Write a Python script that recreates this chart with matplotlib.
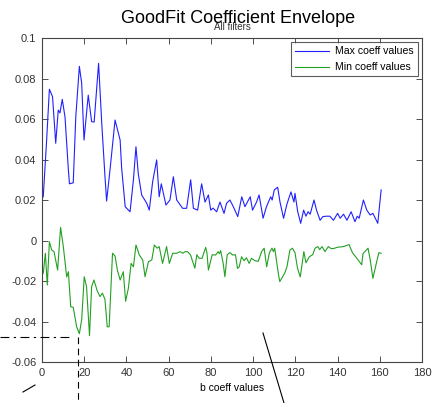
import matplotlib
matplotlib.use("Agg")
import matplotlib.pyplot as plt
from matplotlib.lines import Line2D
import numpy as np

plt.rcParams['font.family'] = ['Liberation Sans', 'DejaVu Sans']

# points (coefficient index, value)
max_x = [0.6, 2.2, 3.5, 5.0, 6.5, 7.7, 8.5, 9.6, 10.9, 12.5, 13.0, 14.8, 16.0, 17.7, 18.8,
         19.9, 21.9, 23.5, 24.7, 26.8, 28.3, 29.8, 30.6, 32.2, 34.6, 37.0, 37.7, 39.4, 41.7,
         43.3, 44.5, 45.6, 47.2, 49.6, 50.8, 52.4, 54.3, 55.5, 56.5, 58.7, 60.6, 62.2, 63.8,
         66.6, 68.5, 70.4, 71.7, 73.7, 75.6, 77.2, 78.8, 79.9, 81.0, 82.7, 84.3, 86.2, 87.4,
         89.0, 90.6, 92.7, 94.6, 96.1, 98.6, 99.7, 101.6, 102.8, 104.7, 106.3, 108.3, 109.0,
         110.0, 111.6, 112.7, 114.4, 116.0, 117.9, 119.3, 119.8, 121.1, 122.5, 123.9, 125.0,
         126.0, 127.0, 128.8, 130.0, 131.7, 133.0, 134.6, 136.3, 138.0, 140.0, 141.2, 142.8,
         144.4, 146.4, 148.2, 149.3, 150.2, 152.2, 153.8, 155.4, 156.7, 159.0, 160.6]
max_y = [0.0216, 0.0496, 0.0747, 0.0710, 0.0480, 0.0644, 0.0630, 0.0697, 0.0610, 0.0348,
         0.0280, 0.0285, 0.0610, 0.0860, 0.0776, 0.0496, 0.0718, 0.0587, 0.0585, 0.0875,
         0.0579, 0.0320, 0.0195, 0.0348, 0.0595, 0.0496, 0.0360, 0.0167, 0.0142, 0.0300,
         0.0463, 0.0330, 0.0225, 0.0184, 0.0150, 0.0290, 0.0398, 0.0216, 0.0280, 0.0175,
         0.0200, 0.0315, 0.0200, 0.0159, 0.0159, 0.0300, 0.0159, 0.0150, 0.0280, 0.0190,
         0.0225, 0.0150, 0.0160, 0.0142, 0.0190, 0.0134, 0.0184, 0.0200, 0.0167, 0.0118,
         0.0216, 0.0167, 0.0216, 0.0150, 0.0190, 0.0225, 0.0110, 0.0167, 0.0216, 0.0200,
         0.0250, 0.0263, 0.0190, 0.0110, 0.0180, 0.0240, 0.0190, 0.0233, 0.0142, 0.0085,
         0.0150, 0.0120, 0.0142, 0.0130, 0.0200, 0.0150, 0.0100, 0.0118, 0.0120, 0.0120,
         0.0100, 0.0134, 0.0110, 0.0130, 0.0100, 0.0142, 0.0093, 0.0120, 0.0110, 0.0200,
         0.0150, 0.0126, 0.0134, 0.0085, 0.0250]

min_x = [0.6, 1.6, 2.5, 3.5, 4.6, 5.7, 7.4, 8.8, 10.1, 11.7, 12.5, 13.6, 14.8, 16.4, 17.7,
         18.8, 20.0, 21.1, 22.5, 23.5, 24.6, 26.2, 27.5, 28.6, 29.8, 30.9, 31.8, 33.4, 34.6,
         35.7, 37.0, 38.5, 39.6, 40.9, 42.2, 43.3, 44.5, 46.1, 47.7, 48.8, 50.4, 52.0, 53.2,
         54.5, 55.5, 57.1, 59.0, 60.3, 61.9, 63.8, 65.4, 66.7, 67.8, 68.9, 70.3, 72.4, 73.3,
         74.4, 75.8, 77.5, 78.1, 78.8, 80.6, 82.2, 83.4, 84.0, 84.6, 85.8, 86.6, 87.7, 89.0,
         90.4, 91.6, 92.6, 93.4, 94.5, 95.7, 96.8, 98.1, 99.2, 100.9, 102.4, 104.0, 105.2,
         106.4, 107.7, 108.9, 109.6, 110.2, 111.9, 112.6, 113.9, 115.0, 116.0, 117.4, 118.6,
         119.8, 121.0, 122.3, 124.0, 125.0, 126.6, 128.2, 129.3, 130.6, 131.5, 132.6, 134.0,
         135.6, 136.9, 138.0, 140.0, 142.8, 145.4, 147.0, 148.5, 150.0, 151.4, 152.0, 154.4,
         155.5, 156.7, 158.6, 159.5, 160.6]
min_y = [-0.0162, -0.0063, -0.0220, -0.0006, -0.0047, -0.0055, -0.0146, 0.0065, -0.0030,
         -0.0180, -0.0154, -0.0327, -0.0330, -0.0426, -0.0460, -0.0390, -0.0179, -0.0228,
         -0.0470, -0.0228, -0.0195, -0.0250, -0.0277, -0.0260, -0.0290, -0.0426, -0.0426,
         -0.0063, -0.0077, -0.0146, -0.0195, -0.0154, -0.0300, -0.0236, -0.0113, -0.0130,
         -0.0022, -0.0072, -0.0096, -0.0179, -0.0105, -0.0096, -0.0022, -0.0038, -0.0030,
         -0.0113, -0.0030, -0.0113, -0.0063, -0.0063, -0.0055, -0.0063, -0.0055, -0.0055,
         -0.0070, -0.0137, -0.0070, -0.0088, -0.0088, -0.0034, -0.0060, -0.0146, -0.0070,
         -0.0072, -0.0055, -0.0065, -0.0050, -0.0113, -0.0179, -0.0070, -0.0060, -0.0072,
         -0.0070, -0.0138, -0.0130, -0.0080, -0.0100, -0.0085, -0.0113, -0.0088, -0.0100,
         -0.0103, -0.0055, -0.0038, -0.0130, -0.0060, -0.0038, -0.0055, -0.0038, -0.0162,
         -0.0203, -0.0180, -0.0160, -0.0130, -0.0047, -0.0038, -0.0060, -0.0137, -0.0180,
         -0.0055, -0.0110, -0.0080, -0.0070, -0.0038, -0.0030, -0.0045, -0.0030, -0.0055,
         -0.0030, -0.0040, -0.0040, -0.0033, -0.0030, -0.0020, -0.0060, -0.0080, -0.0100,
         -0.0120, -0.0065, -0.0038, -0.0100, -0.0187, -0.0100, -0.0060, -0.0063]

x_ticks = [0, 20, 40, 60, 80, 100, 120, 140, 160, 180]
y_ticks = [-0.06, -0.04, -0.02, 0, 0.02, 0.04, 0.06, 0.08, 0.1]

fig = plt.figure(figsize=(4.42, 4.03), dpi=100)
ax = fig.add_axes([0.095, 0.1017, 0.86, 0.804])

ax.plot(max_x, max_y, color='#2020ff', lw=0.8, label='Max coeff values')
ax.plot(min_x, min_y, color='#22a022', lw=0.8, label='Min coeff values')

ax.set_xlim(0, 180)
ax.set_ylim(-0.06, 0.1)
ax.set_xticks(x_ticks)
ax.set_yticks(y_ticks)
ax.set_xticklabels(['%g' % t for t in x_ticks])
ax.set_yticklabels(['%g' % t for t in y_ticks])
ax.tick_params(direction='in', top=True, right=True, length=4, width=0.6,
               labelsize=8, colors='#333333', pad=4)
for s in ax.spines.values():
    s.set_linewidth(0.8)
    s.set_color('#444444')

ax.set_xlabel('b coeff values', fontsize=7.5, labelpad=4)
ax.set_title('All filters', fontsize=7, pad=6, color='#333333')
fig.text(0.538, 0.955, 'GoodFit Coefficient Envelope', ha='center', va='center', fontsize=13)

leg = ax.legend(loc='upper right', fontsize=7.6, frameon=True, fancybox=False,
                edgecolor='#333333', borderaxespad=0.4, handlelength=3.2,
                borderpad=0.4, labelspacing=0.55, handletextpad=0.6)
leg.get_frame().set_linewidth(0.8)

# stray marks present in the reference image (pixel coords)
W, H = 442.0, 403.0
def px(x0, y0, x1, y1, **kw):
    fig.add_artist(Line2D([x0 / W, x1 / W], [1 - y0 / H, 1 - y1 / H],
                          transform=fig.transFigure, color='k', lw=0.8, **kw))

px(0, 337, 70, 337, linestyle=(0, (8, 4, 2, 4)))
px(78, 337, 78, 403, linestyle=(0, (6, 4)))
px(263, 333, 284, 403)
px(23, 392, 35, 385)

fig.savefig('out.png', dpi=100)
